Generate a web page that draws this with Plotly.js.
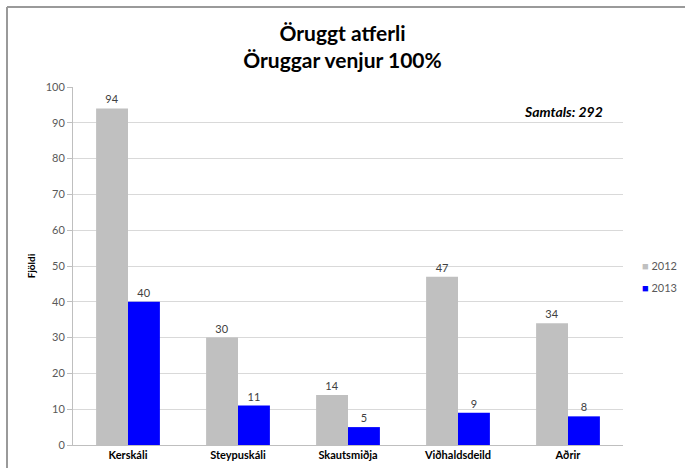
<!DOCTYPE html>
<html><head><meta charset="utf-8">
<script src="https://cdn.plot.ly/plotly-3.0.1.min.js"></script>
<style>html,body{margin:0;padding:0;background:#fff;}#chart{width:685px;height:468px;}</style>
</head><body><div id="chart"></div>
<script>
const categories = ["Kerskáli", "Steypuskáli", "Skautsmiðja", "Viðhaldsdeild", "Aðrir"];
const values2012 = [94, 30, 14, 47, 34];
const values2013 = [40, 11, 5, 9, 8];
const seriesNames = ["2012", "2013"];
const seriesColors = ["#c0c0c0", "#0000ff"];
const yTicks = [0, 10, 20, 30, 40, 50, 60, 70, 80, 90, 100];
const totalLabel = "Samtals: 292";

const W = 685, H = 468, ml = 73, mr = 62, mt = 87, mb = 23;
const pw = W - ml - mr, ph = H - mt - mb;
const px = v => (v - ml) / pw;
const py = v => (H - mb - v) / ph;

const FAM = "Lato, 'Open Sans', sans-serif";
const lblFont = {family: FAM, size: 11, color: "#404040"};
const traces = [
  {type: "bar", name: seriesNames[0], x: categories, y: values2012,
   marker: {color: seriesColors[0]}, text: values2012.map(String), textposition: "outside",
   textfont: lblFont, cliponaxis: false},
  {type: "bar", name: seriesNames[1], x: categories, y: values2013,
   marker: {color: seriesColors[1]}, text: values2013.map(String), textposition: "outside",
   textfont: lblFont, cliponaxis: false}
];

const legendY = [265, 287];
const legendAnn = seriesNames.map((n, i) => ({
  text: '<span style="color:' + seriesColors[i] + ';font-size:11px">■</span> ' + n,
  xref: "paper", yref: "paper", x: px(640), y: py(legendY[i]), xanchor: "left", yanchor: "middle",
  showarrow: false, font: {size: 11, color: "#595959"}
}));

const layout = {
  width: W, height: H,
  margin: {l: ml, r: mr, t: mt, b: mb, autoexpand: false},
  paper_bgcolor: "#fff", plot_bgcolor: "#fff",
  font: {family: FAM, color: "#404040"},
  showlegend: false,
  title: {text: "<b>Öruggt atferli<br>Öruggar venjur 100%</b>", x: 0.5, xanchor: "center",
          y: 1 - 41 / H, yanchor: "middle",
          font: {family: FAM, size: 21, color: "#000"}},
  barmode: "group", bargap: 0.42, bargroupgap: 0,
  xaxis: {type: "category", showgrid: false, showline: true, linecolor: "#bfbfbf", linewidth: 1,
          ticks: "", tickfont: {family: FAM, size: 11, color: "#000", weight: "bold"},
          fixedrange: true},
  yaxis: {range: [0, 100], tickvals: yTicks, showgrid: true, gridcolor: "#d9d9d9", gridwidth: 1,
          showline: true, linecolor: "#bfbfbf", linewidth: 1, ticks: "outside", ticklen: 5,
          tickcolor: "#bfbfbf", tickfont: {size: 11, color: "#595959"}, zeroline: false,
          title: {text: "<b>Fjöldi</b>", standoff: 8, font: {size: 10, color: "#000"}}},
  annotations: [{text: "<b><i>" + totalLabel + "</i></b>", xref: "paper", yref: "paper",
                 x: px(605), y: py(111), xanchor: "right", yanchor: "middle", showarrow: false,
                 font: {size: 14, color: "#000"}}].concat(legendAnn),
  shapes: [
    {type: "line", xref: "paper", yref: "paper", x0: px(7), x1: px(7), y0: py(7), y1: py(468), line: {color: "#9a9a9a", width: 2}},
    {type: "line", xref: "paper", yref: "paper", x0: px(7), x1: px(685), y0: py(7), y1: py(7), line: {color: "#9a9a9a", width: 2}}
  ]
};
Plotly.newPlot("chart", traces, layout, {displayModeBar: false, staticPlot: true});
</script></body></html>
